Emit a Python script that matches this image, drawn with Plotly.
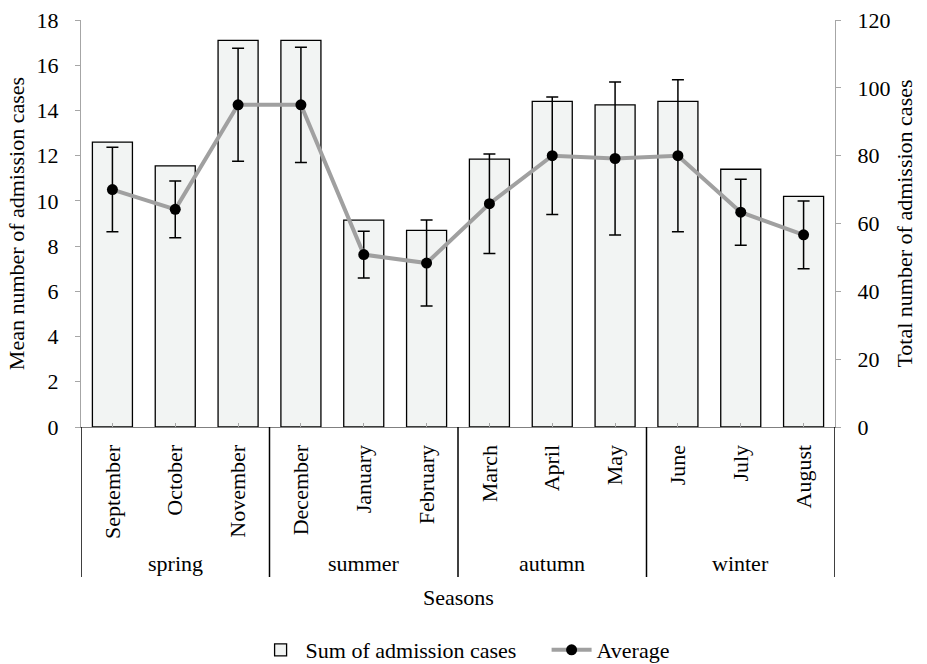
import plotly.graph_objects as go

# ---- data ----
months = ["September", "October", "November", "December", "January", "February",
          "March", "April", "May", "June", "July", "August"]
seasons = ["spring", "summer", "autumn", "winter"]
months_per_season = [3, 3, 3, 3]
sum_cases = [84, 77, 114, 114, 61, 58, 79, 96, 95, 96, 76, 68]
average = [10.5, 9.625, 14.25, 14.25, 7.625, 7.25, 9.875, 12.0, 11.875, 12.0, 9.5, 8.5]
avg_error = [1.87, 1.25, 2.5, 2.55, 1.03, 1.9, 2.2, 2.6, 3.38, 3.36, 1.46, 1.5]
left_ticks = list(range(0, 19, 2))
right_ticks = list(range(0, 121, 20))

FONT = "Liberation Serif"
FS = 22
AXIS_GRAY = "#a6a6a6"

fig = go.Figure()

fig.add_trace(go.Bar(
    x=months, y=sum_cases, name="Sum of admission cases",
    xaxis="x", yaxis="y2",
    marker=dict(color="#f2f4f3", line=dict(color="black", width=1.3)),
))

fig.add_trace(go.Scatter(
    x=months, y=average, name="Average", mode="lines+markers",
    xaxis="x", yaxis="y",
    line=dict(color="#a0a0a0", width=4),
    marker=dict(color="black", size=11),
    error_y=dict(type="data", array=avg_error, color="black", thickness=1.5, width=6),
))

# group dividers and season labels
shapes = []
annotations = []
start = 0
bounds = [-0.5]
for s, n in zip(seasons, months_per_season):
    center = start + (n - 1) / 2
    annotations.append(dict(
        x=center, y=-0.335, xref="x", yref="paper", text=s, showarrow=False,
        xanchor="center", yanchor="middle", font=dict(family=FONT, size=FS, color="black"),
    ))
    start += n
    bounds.append(start - 0.5)
for b in bounds:
    shapes.append(dict(type="line", xref="x", yref="paper", x0=b, x1=b, y0=0, y1=-0.3686,
                       line=dict(color="black", width=1.5)))

annotations.append(dict(
    x=0.5, y=-0.42, xref="paper", yref="paper", text="Seasons", showarrow=False,
    xanchor="center", yanchor="middle", font=dict(family=FONT, size=FS, color="black"),
))

fig.update_layout(
    width=927, height=664,
    margin=dict(l=81, r=92, t=20, b=237, autoexpand=False),
    plot_bgcolor="white", paper_bgcolor="white",
    font=dict(family=FONT, size=FS, color="black"),
    bargap=0.363,
    showlegend=True,
    legend=dict(orientation="h", x=0.6175, xanchor="center",
                yref="container", y=0.021, yanchor="middle",
                font=dict(family=FONT, size=FS, color="black"), itemwidth=40,
                entrywidth=236, entrywidthmode="pixels",
                bgcolor="rgba(0,0,0,0)"),
    xaxis=dict(
        type="category", tickangle=-90, ticks="inside", ticklen=4, tickcolor=AXIS_GRAY,
        showline=True, linecolor="#808080", linewidth=1.2, showgrid=False,
        ticklabelstandoff=8, tickfont=dict(family=FONT, size=FS, color="black"),
        range=[-0.5, len(months) - 0.5], automargin=False,
    ),
    yaxis2=dict(
        side="right", anchor="x", range=[0, 120], tickvals=right_ticks,
        showline=True, linecolor=AXIS_GRAY, linewidth=1.2, ticks="outside", ticklen=5,
        tickcolor=AXIS_GRAY, showgrid=False, zeroline=False, ticklabelstandoff=12,
        automargin=False,
        title=dict(text="Total number of admission cases", standoff=7,
                   font=dict(family=FONT, size=FS, color="black")),
    ),
    yaxis=dict(
        side="left", overlaying="y2", anchor="x", range=[0, 18], tickvals=left_ticks,
        showline=True, linecolor=AXIS_GRAY, linewidth=1.2, ticks="outside", ticklen=5,
        tickcolor=AXIS_GRAY, showgrid=False, zeroline=False, ticklabelstandoff=12,
        automargin=False,
        title=dict(text="Mean number of admission cases", standoff=5,
                   font=dict(family=FONT, size=FS, color="black")),
    ),
    shapes=shapes,
    annotations=annotations,
)

fig.write_html("out.html")
